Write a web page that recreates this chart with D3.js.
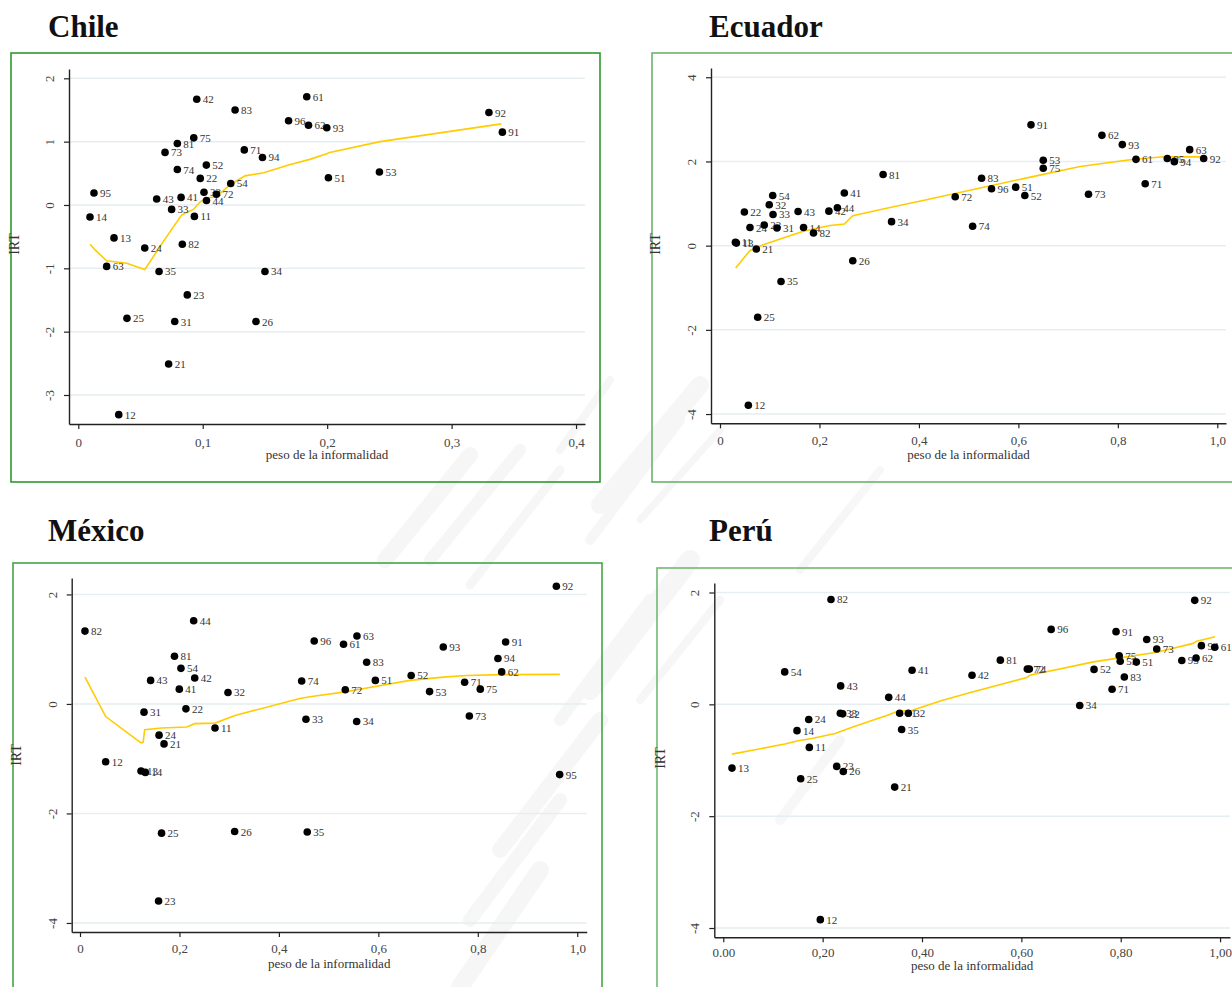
<!DOCTYPE html>
<html>
<head>
<meta charset="utf-8">
<script src="https://cdn.jsdelivr.net/npm/d3@7"></script>
<style>
  body { margin: 0; background: #fff; }
  svg { display: block; font-family: "Liberation Serif", "Times New Roman", serif; }
</style>
</head>
<body>
<svg id="chart" width="1232" height="987"></svg>
<script>
// Each point: [sector code, peso de la informalidad, IRT]
const chilePoints = [
  ["42",0.0952,1.67],["83",0.126,1.50],["96",0.169,1.33],["75",0.0928,1.06],["81",0.0796,0.97],
  ["73",0.0697,0.83],["71",0.1334,0.87],["94",0.148,0.75],["74",0.0796,0.56],["52",0.1029,0.63],
  ["22",0.098,0.42],["54",0.1225,0.34],["95",0.0126,0.19],["43",0.063,0.095],["41",0.0826,0.12],
  ["32",0.101,0.20],["72",0.111,0.17],["44",0.103,0.07],["33",0.075,-0.07],["11",0.0933,-0.18],
  ["14",0.0094,-0.19],["13",0.0287,-0.52],["24",0.0534,-0.68],["82",0.0836,-0.62],["63",0.0228,-0.97],
  ["61",0.1836,1.71],["62",0.185,1.26],["93",0.1997,1.22],["92",0.33,1.46],["91",0.3408,1.15],
  ["51",0.201,0.43],["53",0.242,0.52],["35",0.0649,-1.05],["34",0.150,-1.05],["23",0.0876,-1.42],
  ["25",0.0391,-1.79],["31",0.0775,-1.84],["26",0.1428,-1.84],["21",0.0726,-2.51],["12",0.0325,-3.31]
];
const ecuadorPoints = [
  ["81",0.328,1.69],["41",0.250,1.25],["54",0.106,1.19],["32",0.099,0.97],["22",0.049,0.80],
  ["33",0.1066,0.74],["43",0.157,0.81],["42",0.219,0.82],["44",0.236,0.90],["24",0.0603,0.43],
  ["23",0.089,0.49],["31",0.1146,0.42],["14",0.168,0.43],["82",0.188,0.30],["34",0.345,0.57],
  ["11",0.031,0.08],["13",0.033,0.06],["21",0.073,-0.08],["26",0.267,-0.36],["35",0.1227,-0.85],
  ["25",0.0758,-1.70],["12",0.057,-3.79],["91",0.6254,2.87],["62",0.768,2.62],["93",0.809,2.40],
  ["63",0.9445,2.28],["53",0.650,2.03],["75",0.650,1.84],["61",0.8365,2.05],["95",0.8995,2.07],
  ["94",0.9136,1.995],["92",0.9726,2.07],["83",0.526,1.60],["96",0.546,1.35],["51",0.5946,1.39],
  ["52",0.613,1.19],["72",0.473,1.16],["73",0.741,1.22],["71",0.855,1.47],["74",0.508,0.46]
];
const mexicoPoints = [
  ["82",0.010,1.33],["44",0.2286,1.52],["81",0.190,0.87],["54",0.203,0.65],["42",0.2307,0.475],
  ["43",0.142,0.43],["41",0.1997,0.27],["32",0.2976,0.21],["22",0.213,-0.09],["31",0.1287,-0.15],
  ["11",0.2715,-0.44],["24",0.159,-0.57],["21",0.169,-0.73],["12",0.0516,-1.055],["13",0.1227,-1.225],
  ["14",0.1314,-1.25],["25",0.164,-2.36],["26",0.311,-2.33],["23",0.158,-3.60],["92",0.958,2.15],
  ["96",0.471,1.15],["61",0.530,1.09],["63",0.557,1.24],["93",0.7306,1.04],["91",0.856,1.13],
  ["94",0.8405,0.83],["83",0.5765,0.76],["62",0.848,0.585],["52",0.666,0.52],["74",0.4458,0.42],
  ["51",0.594,0.43],["71",0.7735,0.395],["72",0.5335,0.26],["53",0.703,0.225],["75",0.805,0.27],
  ["33",0.4544,-0.28],["34",0.5564,-0.32],["73",0.783,-0.22],["95",0.9646,-1.29],["35",0.457,-2.34]
];
const peruPoints = [
  ["82",0.2168,1.875],["54",0.1236,0.58],["41",0.380,0.61],["43",0.2363,0.33],["44",0.333,0.125],
  ["33",0.2356,-0.16],["22",0.2403,-0.17],["31",0.355,-0.16],["32",0.3725,-0.16],["24",0.172,-0.27],
  ["14",0.1484,-0.47],["35",0.359,-0.45],["11",0.1732,-0.77],["13",0.0175,-1.14],["23",0.2283,-1.11],
  ["26",0.2416,-1.20],["25",0.1558,-1.33],["21",0.345,-1.48],["12",0.1953,-3.85],["92",0.949,1.86],
  ["96",0.660,1.34],["91",0.7906,1.30],["93",0.8524,1.16],["73",0.8725,0.99],["94",0.9624,1.05],
  ["61",0.9893,1.02],["81",0.5577,0.79],["75",0.797,0.87],["53",0.799,0.77],["51",0.8315,0.755],
  ["95",0.923,0.785],["62",0.9517,0.83],["72",0.612,0.63],["74",0.616,0.63],["42",0.5007,0.52],
  ["52",0.7463,0.625],["83",0.8073,0.49],["71",0.7826,0.27],["34",0.7175,-0.02]
];

// Smoothed (lowess) curves: [peso de la informalidad, IRT]
const chileFit = [
  [0.0094,-0.62],[0.0135,-0.71],[0.0228,-0.88],[0.039,-0.92],[0.0534,-1.02],[0.071,-0.50],
  [0.083,-0.16],[0.0925,-0.07],[0.098,0.05],[0.103,0.11],[0.111,0.13],[0.122,0.32],[0.134,0.46],
  [0.149,0.51],[0.169,0.63],[0.186,0.72],[0.1997,0.81],[0.202,0.83],[0.2425,1.0],[0.340,1.28]
];
const ecuadorFit = [
  [0.0315,-0.53],[0.060,-0.12],[0.087,0.02],[0.127,0.18],[0.1675,0.34],[0.221,0.48],[0.25,0.515],
  [0.267,0.71],[0.328,0.87],[0.422,1.11],[0.617,1.61],[0.724,1.88],[0.8245,2.04],[0.891,2.11],[0.9726,2.11]
];
const mexicoFit = [
  [0.010,0.49],[0.0516,-0.23],[0.1227,-0.71],[0.127,-0.70],[0.130,-0.47],[0.164,-0.44],[0.2145,-0.42],
  [0.231,-0.36],[0.2715,-0.35],[0.3117,-0.21],[0.442,0.10],[0.469,0.14],[0.5335,0.22],[0.5765,0.29],
  [0.6636,0.43],[0.7306,0.49],[0.7776,0.52],[0.8446,0.535],[0.965,0.54]
];
const peruFit = [
  [0.0175,-0.89],[0.124,-0.71],[0.151,-0.65],[0.178,-0.61],[0.225,-0.52],[0.265,-0.39],[0.332,-0.19],
  [0.352,-0.12],[0.379,-0.11],[0.44,0.07],[0.503,0.225],[0.611,0.48],[0.617,0.52],[0.745,0.76],
  [0.8725,0.93],[0.946,1.09],[0.953,1.13],[0.990,1.21]
];

// Axis ticks and their printed labels
const chileXTicks = [0, 0.1, 0.2, 0.3, 0.4];
const chileXLabels = ["0", "0,1", "0,2", "0,3", "0,4"];
const chileYTicks = [2, 1, 0, -1, -2, -3];
const ecuadorXTicks = [0, 0.2, 0.4, 0.6, 0.8, 1.0];
const ecuadorXLabels = ["0", "0,2", "0,4", "0,6", "0,8", "1,0"];
const ecuadorYTicks = [4, 2, 0, -2, -4];
const mexicoXTicks = [0, 0.2, 0.4, 0.6, 0.8, 1.0];
const mexicoXLabels = ["0", "0,2", "0,4", "0,6", "0,8", "1,0"];
const mexicoYTicks = [2, 0, -2, -4];
const peruXTicks = [0, 0.2, 0.4, 0.6, 0.8, 1.0];
const peruXLabels = ["0.00", "0,20", "0,40", "0,60", "0,80", "1,00"];
const peruYTicks = [2, 0, -2, -4];

const countries = ["Chile", "Ecuador", "México", "Perú"];
const xTitle = "peso de la informalidad";
const yTitle = "IRT";

const svg = d3.select("#chart");

// faint brush-stroke watermark behind the panels
const wm = svg.append("g").attr("fill", "none").attr("stroke", "#e2e2e2")
  .attr("stroke-linecap", "round").attr("opacity", 0.28);
const strokes = [
  [[470,455],[385,560],16],[[520,450],[430,560],12],[[560,470],[470,585],9],
  [[700,385],[600,505],18],[[680,420],[590,540],10],[[720,430],[640,520],7],
  [[690,560],[590,690],20],[[650,600],[560,720],12],[[720,600],[640,700],8],
  [[600,720],[500,850],16],[[560,800],[470,920],14],[[540,870],[460,987],18],
  [[880,470],[800,570],8],[[840,740],[780,820],10],[[610,380],[560,450],8]
];
strokes.forEach(s => wm.append("line")
  .attr("x1", s[0][0]).attr("y1", s[0][1]).attr("x2", s[1][0]).attr("y2", s[1][1])
  .attr("stroke-width", s[2]));

const panels = [
  { name: countries[0], points: chilePoints, fit: chileFit,
    xTicks: chileXTicks, xLabels: chileXLabels, yTicks: chileYTicks,
    frame: [11, 53, 589, 429], frameColor: "#2f9a2f",
    plot: { left: 69, right: 585, top: 69, bottom: 424 },
    xDomain: [-0.00747, 0.4072], yDomain: [-3.458, 2.147],
    title: [48, 37], yTitlePos: [14, 244], tickGap: 23, xTitleGap: 35 },
  { name: countries[1], points: ecuadorPoints, fit: ecuadorFit,
    xTicks: ecuadorXTicks, xLabels: ecuadorXLabels, yTicks: ecuadorYTicks,
    frame: [652, 53, 600, 429], frameColor: "#6cb36c",
    plot: { left: 711, right: 1226, top: 68, bottom: 423.3 },
    xDomain: [-0.0181, 1.0175], yDomain: [-4.22, 4.22],
    title: [709, 37], yTitlePos: [655, 244], tickGap: 22, xTitleGap: 36 },
  { name: countries[2], points: mexicoPoints, fit: mexicoFit,
    xTicks: mexicoXTicks, xLabels: mexicoXLabels, yTicks: mexicoYTicks,
    frame: [13, 563, 589, 440], frameColor: "#44a544",
    plot: { left: 71.7, right: 586.7, top: 578, bottom: 932 },
    xDomain: [-0.0167, 1.019], yDomain: [-4.165, 2.30],
    title: [48, 541], yTitlePos: [16, 755], tickGap: 21, xTitleGap: 36 },
  { name: countries[3], points: peruPoints, fit: peruFit,
    xTicks: peruXTicks, xLabels: peruXLabels, yTicks: peruYTicks,
    frame: [657, 568, 600, 440], frameColor: "#72b872",
    plot: { left: 714.3, right: 1230, top: 583, bottom: 937.3 },
    xDomain: [-0.0181, 1.020], yDomain: [-4.166, 2.17],
    title: [709, 541], yTitlePos: [660, 758], tickGap: 20, xTitleGap: 33 }
];

panels.forEach(p => {
  const g = svg.append("g");
  const P = p.plot;
  const x = d3.scaleLinear().domain(p.xDomain).range([P.left, P.right]);
  const y = d3.scaleLinear().domain(p.yDomain).range([P.bottom, P.top]);

  // panel frame
  g.append("rect")
    .attr("x", p.frame[0]).attr("y", p.frame[1])
    .attr("width", p.frame[2]).attr("height", p.frame[3])
    .attr("fill", "none").attr("stroke", p.frameColor).attr("stroke-width", 1.6);

  // title
  g.append("text").attr("x", p.title[0]).attr("y", p.title[1])
    .attr("font-size", 31).attr("font-weight", "bold").attr("fill", "#111")
    .text(p.name);

  // horizontal grid
  g.append("g").selectAll("line").data(p.yTicks).join("line")
    .attr("x1", P.left).attr("x2", P.right)
    .attr("y1", d => y(d)).attr("y2", d => y(d))
    .attr("stroke", "#e6eef1").attr("stroke-width", 1.5);

  // y axis
  const ya = g.append("g").attr("transform", `translate(${P.left},0)`)
    .call(d3.axisLeft(y).tickValues(p.yTicks).tickSize(5).tickSizeOuter(0).tickFormat(d3.format("d")));
  ya.select(".domain").attr("stroke", "#222").attr("stroke-width", 1.4);
  ya.selectAll(".tick line").attr("stroke", "#222").attr("stroke-width", 1.2);
  ya.selectAll(".tick text")
    .attr("transform", "rotate(-90)").attr("x", 0).attr("y", -15).attr("dy", null)
    .attr("text-anchor", "middle").attr("font-size", 13).attr("fill", "#444")
    .attr("font-family", "Liberation Serif, serif")
    .text(d => String(d));

  // x axis
  const xa = g.append("g").attr("transform", `translate(0,${P.bottom})`)
    .call(d3.axisBottom(x).tickValues(p.xTicks).tickSize(5).tickSizeOuter(0)
      .tickFormat((d, i) => p.xLabels[i]));
  xa.select(".domain").attr("stroke", "#222").attr("stroke-width", 1.4);
  xa.selectAll(".tick line").attr("stroke", "#222").attr("stroke-width", 1.2);
  xa.selectAll(".tick text").attr("y", p.tickGap).attr("dy", null)
    .attr("font-size", 13).attr("fill", "#444").attr("font-family", "Liberation Serif, serif");

  // axis titles
  g.append("text")
    .attr("x", (P.left + P.right) / 2).attr("y", P.bottom + p.xTitleGap)
    .attr("text-anchor", "middle").attr("font-size", 13).attr("fill", "#333")
    .text(xTitle);
  g.append("text")
    .attr("transform", `translate(${p.yTitlePos[0] + 5},${p.yTitlePos[1]}) rotate(-90)`)
    .attr("text-anchor", "middle").attr("font-size", 14).attr("fill", "#333")
    .text(yTitle);

  // smoothed curve
  g.append("path").datum(p.fit)
    .attr("fill", "none").attr("stroke", "#ffcc00").attr("stroke-width", 1.6)
    .attr("d", d3.line().x(d => x(d[0])).y(d => y(d[1])));

  // labelled markers
  const pts = g.append("g").selectAll("g").data(p.points).join("g")
    .attr("transform", d => `translate(${x(d[1])},${y(d[2])})`);
  pts.append("circle").attr("r", 3.8).attr("fill", "#000");
  pts.append("text").attr("x", 6).attr("y", 4)
    .attr("font-size", 11).attr("fill", "#333")
    .text(d => d[0]);
});
</script>
</body>
</html>
